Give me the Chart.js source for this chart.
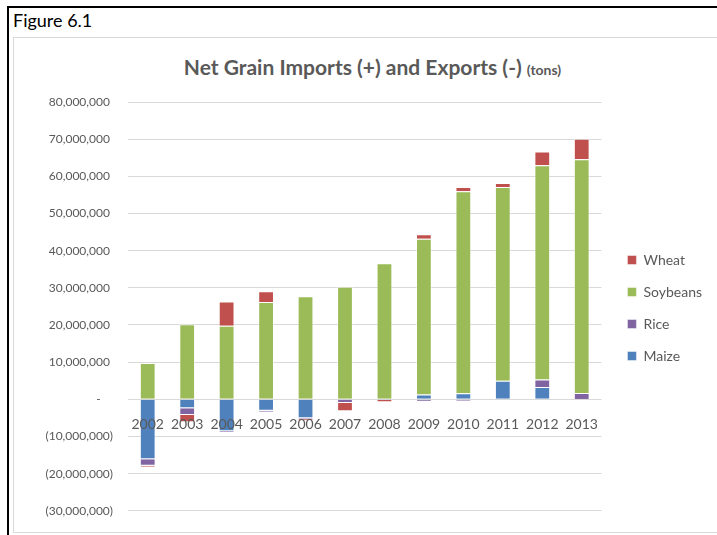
<!DOCTYPE html>
<html>
<head>
<meta charset="utf-8">
<script src="https://cdn.jsdelivr.net/npm/chart.js@4.4.1/dist/chart.umd.min.js"></script>
<style>
  body { margin: 0; background: #fff; width: 717px; height: 535px; overflow: hidden; position: relative; }
  .rule { position: absolute; background: #000; }
  #fig { position: absolute; left: 13px; top: 9px; font: 18px Lato, sans-serif; color: #000; }
  #box { position: absolute; left: 13px; top: 37px; width: 720px; height: 496px; border: 1px solid #d9d9d9; box-sizing: border-box; }
  #title { position: absolute; left: 0; width: 745px; top: 54px; text-align: center; white-space: nowrap;
           font: bold 21px Lato, sans-serif; color: #595959; }
  #title small { font-size: 14px; }
  #wrap { position: absolute; left: 14px; top: 38px; width: 703px; height: 495px; }
</style>
</head>
<body>
<div class="rule" style="left:7px; top:6px; width:710px; height:2px"></div>
<div class="rule" style="left:7px; top:6px; width:2px; height:529px"></div>
<div id="fig">Figure 6.1</div>
<div id="box"></div>
<div id="title">Net Grain Imports (+) and Exports (-) <small>(tons)</small></div>
<div id="wrap"><canvas id="grainChart" width="703" height="495"></canvas></div>
<script>
// net trade per crop, tons (imports positive, exports negative)
const years = ['2002', '2003', '2004', '2005', '2006', '2007', '2008', '2009', '2010', '2011', '2012', '2013'];
const maize = [-16100000, -2400000, -8600000, -3100000, -5100000, -100000, 0, 1300000, 1600000, 5000000, 3300000, 100000];
const rice = [-1800000, -1800000, -400000, -400000, -200000, -900000, -200000, -600000, -500000, 0, 2000000, 1600000];
const soybeans = [9800000, 20200000, 19800000, 26200000, 27700000, 30300000, 36600000, 41900000, 54400000, 52100000, 57700000, 62900000];
const wheat = [-400000, -2000000, 6500000, 2900000, -400000, -2200000, -600000, 1200000, 1100000, 1100000, 3700000, 5500000];

const textColor = '#595959';
const edge = 'rgba(255,255,255,0.45)';

function accounting(v) {
    if (v === 0) return '-    ';
    if (v < 0) return '(' + Math.abs(v).toLocaleString('en-US') + ')';
    return v.toLocaleString('en-US') + ' ';
}

const chartdata = {
    labels: years,
    datasets: [
        { label: 'Maize', data: maize, backgroundColor: '#4F81BD' },
        { label: 'Rice', data: rice, backgroundColor: '#8064A2' },
        { label: 'Soybeans', data: soybeans, backgroundColor: '#9BBB59' },
        { label: 'Wheat', data: wheat, backgroundColor: '#C0504D' }
    ]
};
chartdata.datasets.forEach(function (ds) {
    ds.borderColor = edge;
    ds.borderWidth = 1;
    ds.barPercentage = 0.4;
    ds.categoryPercentage = 1;
});

const config = {
    type: 'bar',
    data: chartdata,
    options: {
        responsive: false,
        animation: false,
        layout: { padding: { top: 64, bottom: 19, left: 0, right: 5 } },
        plugins: {
            tooltip: { enabled: false },
            legend: {
                position: 'right',
                reverse: true,
                labels: {
                    boxWidth: 9,
                    boxHeight: 9,
                    padding: 18,
                    color: textColor,
                    font: { family: 'Lato', size: 14 }
                }
            }
        },
        scales: {
            x: {
                stacked: true,
                position: { y: 0 },
                grid: { display: false, drawTicks: false },
                border: { display: false },
                // labels sit on the zero line, drawn over the bars
                ticks: { z: 1, color: textColor, padding: 17, font: { family: 'Lato', size: 14 } }
            },
            y: {
                stacked: true,
                min: -30000000,
                max: 80000000,
                afterFit: function (scale) { scale.width = 114; },
                grid: { color: '#d9d9d9', lineWidth: 1, drawTicks: false },
                border: { display: false },
                ticks: {
                    stepSize: 10000000,
                    padding: 15,
                    color: textColor,
                    font: { family: 'Lato', size: 12 },
                    callback: accounting
                }
            },
            // empty strip between the plot and the legend
            gap: {
                position: 'right',
                afterFit: function (scale) { scale.width = 8; },
                grid: { display: false, drawTicks: false },
                border: { display: false },
                ticks: { display: false }
            }
        }
    }
};

var myChart = new Chart(document.getElementById('grainChart'), config);
</script>
</body>
</html>
